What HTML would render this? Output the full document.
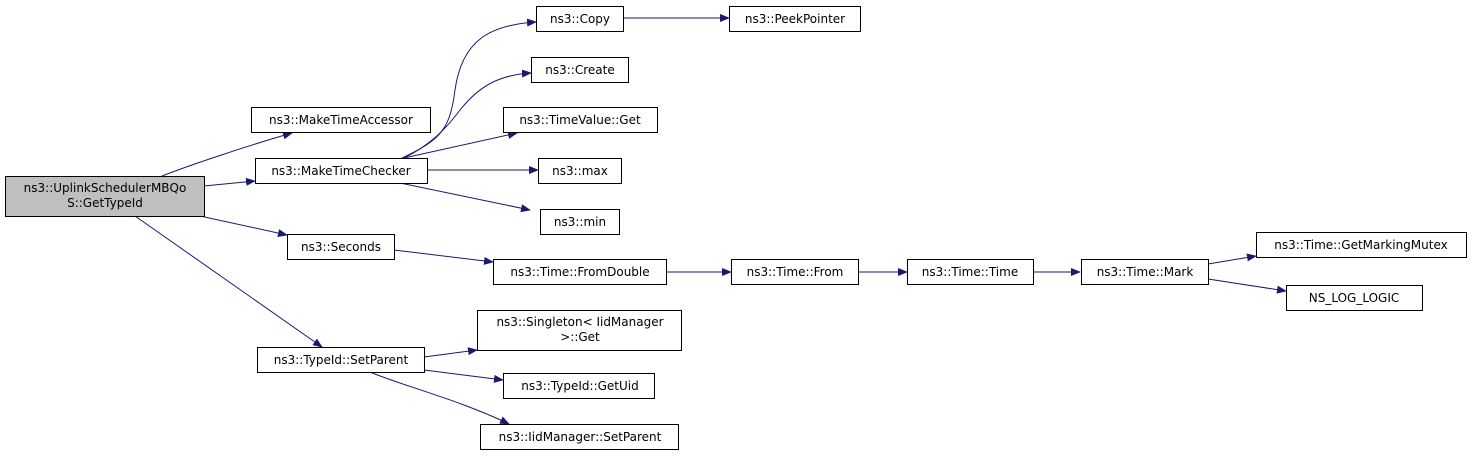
<!DOCTYPE html>
<html><head><style>
body{margin:0;background:#fff;}
svg text{font-family:"DejaVu Sans","Liberation Sans",sans-serif;font-size:12px;fill:#000;}
</style></head><body>
<svg width="1472" height="459" viewBox="0 0 1472 459" xmlns="http://www.w3.org/2000/svg">
<defs><marker id="a" markerWidth="10" markerHeight="8" refX="9" refY="4" orient="auto" markerUnits="userSpaceOnUse"><path d="M0,0 L10,4 L0,8 z" fill="#191970"/></marker></defs>
<g fill="none" stroke="#191970" stroke-width="1" marker-end="url(#a)">
<path d="M162,176 C190,165 250,145 292,133"/>
<path d="M204,186 L255,181"/>
<path d="M200,216 L287,235"/>
<path d="M135,216 L322,347"/>
<path d="M402,158 C440,140 450,130 455,90 C462,40 490,25 536,22"/>
<path d="M404,158 C430,145 445,130 460,110 C480,85 500,75 531,73"/>
<path d="M404,158 L517,133"/>
<path d="M427,170 L538,170"/>
<path d="M400,183 L530,210"/>
<path d="M623,18 L729,18"/>
<path d="M394,250 L493,262"/>
<path d="M666,272 L731,272"/>
<path d="M858,272 L907,272"/>
<path d="M1033,272 L1080,272"/>
<path d="M1208,264 L1256,256"/>
<path d="M1208,279 L1286,291"/>
<path d="M424,357 L477,350"/>
<path d="M424,370 L503,380"/>
<path d="M370,372 C400,385 460,400 509,424"/>
</g>
<g stroke="#000" stroke-width="1" fill="#fff">
<rect x="5.5" y="176.5" width="199" height="40" fill="#bfbfbf"/>
<rect x="251.5" y="107.5" width="179" height="25"/>
<rect x="255.5" y="158.5" width="172" height="25"/>
<rect x="287.5" y="234.5" width="107" height="25"/>
<rect x="257.5" y="347.5" width="167" height="25"/>
<rect x="536.5" y="6.5" width="87" height="25"/>
<rect x="729.5" y="6.5" width="131" height="25"/>
<rect x="531.5" y="57.5" width="97" height="25"/>
<rect x="503.5" y="107.5" width="154" height="25"/>
<rect x="538.5" y="158.5" width="83" height="25"/>
<rect x="540.5" y="209.5" width="79" height="25"/>
<rect x="493.5" y="259.5" width="173" height="25"/>
<rect x="731.5" y="259.5" width="127" height="25"/>
<rect x="907.5" y="259.5" width="126" height="25"/>
<rect x="1081.5" y="259.5" width="127" height="25"/>
<rect x="1256.5" y="232.5" width="210" height="25"/>
<rect x="1286.5" y="285.5" width="136" height="25"/>
<rect x="477.5" y="310.5" width="204" height="40"/>
<rect x="503.5" y="373.5" width="151" height="25"/>
<rect x="480.5" y="424.5" width="198" height="25"/>
</g>
<g text-anchor="middle">
<text x="105" y="192">ns3::UplinkSchedulerMBQo</text>
<text x="105" y="207">S::GetTypeId</text>
<text x="341" y="124">ns3::MakeTimeAccessor</text>
<text x="341" y="175">ns3::MakeTimeChecker</text>
<text x="341" y="251">ns3::Seconds</text>
<text x="341" y="364">ns3::TypeId::SetParent</text>
<text x="580" y="23">ns3::Copy</text>
<text x="795" y="23">ns3::PeekPointer</text>
<text x="580" y="74">ns3::Create</text>
<text x="580" y="124">ns3::TimeValue::Get</text>
<text x="580" y="175">ns3::max</text>
<text x="580" y="226">ns3::min</text>
<text x="580" y="276">ns3::Time::FromDouble</text>
<text x="795" y="276">ns3::Time::From</text>
<text x="970" y="276">ns3::Time::Time</text>
<text x="1145" y="276">ns3::Time::Mark</text>
<text x="1361" y="249">ns3::Time::GetMarkingMutex</text>
<text x="1354" y="302">NS_LOG_LOGIC</text>
<text x="580" y="326">ns3::Singleton&lt; IidManager</text>
<text x="580" y="341">&gt;::Get</text>
<text x="580" y="390">ns3::TypeId::GetUid</text>
<text x="580" y="441">ns3::IidManager::SetParent</text>
</g>
</svg>
</body></html>
